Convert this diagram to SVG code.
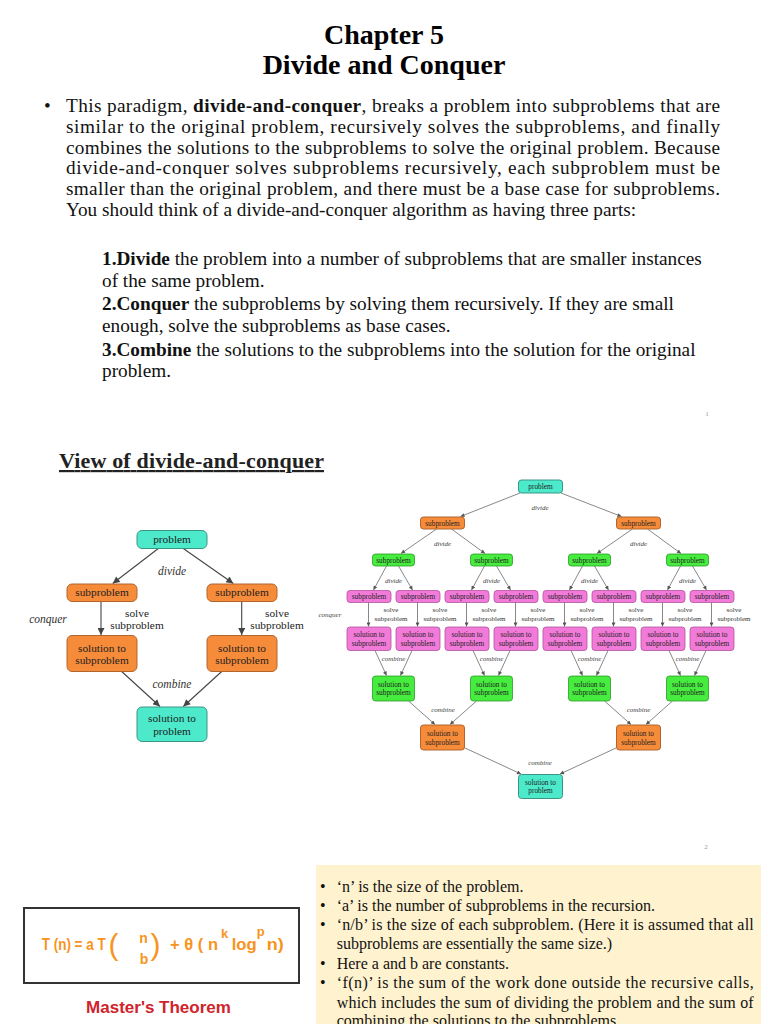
<svg xmlns="http://www.w3.org/2000/svg" width="768" height="1024" viewBox="0 0 768 1024">
<style>
.serif{font-family:"Liberation Serif","Times New Roman",serif;fill:#111}
.title{font-family:"Liberation Serif",serif;font-weight:bold;font-size:28px;text-anchor:middle;fill:#000}
.body{font-family:"Liberation Serif",serif;font-size:19.25px;fill:#111}
.small{font-family:"Liberation Serif",serif;font-size:16px;fill:#111}
.bold{font-weight:bold}
.ln{font-family:"Liberation Serif",serif;font-size:11.3px;fill:#222;text-anchor:middle}
.li{font-family:"Liberation Serif",serif;font-size:11.5px;font-style:italic;fill:#333;text-anchor:middle}
.rn{font-family:"Liberation Serif",serif;font-size:7.3px;fill:#222;text-anchor:middle}
.ri{font-family:"Liberation Serif",serif;font-size:7px;font-style:italic;fill:#444;text-anchor:middle}
.rl{font-family:"Liberation Serif",serif;font-size:7px;fill:#333;text-anchor:middle}
.cy{fill:#4CEACB;stroke:#3a9584;stroke-width:1}
.or{fill:#F68B3A;stroke:#b0662e;stroke-width:1}
.gr{fill:#46EC3E;stroke:#2c9a27;stroke-width:0.8}
.pk{fill:#F27AD9;stroke:#b1549e;stroke-width:0.8}
.el{fill:none;stroke:#444;stroke-width:1.1}
.er{fill:none;stroke:#555;stroke-width:0.7}
.fo{font-family:"Liberation Sans",Arial,sans-serif;font-weight:bold;fill:#F7941D}
.par{font-family:"Liberation Sans",Arial,sans-serif;font-weight:normal;fill:#F7941D;font-size:30px}
.pg{font-family:"Liberation Serif",serif;font-size:7px;fill:#999}
</style>
<defs>
<marker id="aL" viewBox="0 0 10 10" refX="10" refY="5" markerWidth="9" markerHeight="7" markerUnits="userSpaceOnUse" orient="auto"><path d="M0,0 L10,5 L0,10 z" fill="#444"/></marker>
<marker id="aR" viewBox="0 0 10 10" refX="10" refY="5" markerWidth="5" markerHeight="4" markerUnits="userSpaceOnUse" orient="auto"><path d="M0,0 L10,5 L0,10 z" fill="#555"/></marker>
</defs>
<rect width="768" height="1024" fill="#fff"/>

<!-- Title -->
<text class="title" x="384" y="44">Chapter 5</text>
<text class="title" x="384" y="74">Divide and Conquer</text>

<!-- Paragraph -->
<text class="body" x="44" y="112">•</text>
<text class="body" x="66" y="112" textLength="654" lengthAdjust="spacing">This paradigm, <tspan class="bold">divide-and-conquer</tspan>, breaks a problem into subproblems that are</text>
<text class="body" x="66" y="133" textLength="654" lengthAdjust="spacing">similar to the original problem, recursively solves the subproblems, and finally</text>
<text class="body" x="66" y="154" textLength="654" lengthAdjust="spacing">combines the solutions to the subproblems to solve the original problem. Because</text>
<text class="body" x="66" y="174" textLength="654" lengthAdjust="spacing">divide-and-conquer solves subproblems recursively, each subproblem must be</text>
<text class="body" x="66" y="195" textLength="654" lengthAdjust="spacing">smaller than the original problem, and there must be a base case for subproblems.</text>
<text class="body" x="66" y="216">You should think of a divide-and-conquer algorithm as having three parts:</text>

<text class="body" x="102" y="265"><tspan class="bold">1.Divide</tspan> the problem into a number of subproblems that are smaller instances</text>
<text class="body" x="102" y="287">of the same problem.</text>
<text class="body" x="102" y="310"><tspan class="bold">2.Conquer</tspan> the subproblems by solving them recursively. If they are small</text>
<text class="body" x="102" y="332">enough, solve the subproblems as base cases.</text>
<text class="body" x="102" y="356"><tspan class="bold">3.Combine</tspan> the solutions to the subproblems into the solution for the original</text>
<text class="body" x="102" y="377">problem.</text>
<text class="pg" x="707" y="416" text-anchor="middle">1</text>

<!-- Section heading -->
<text x="59" y="468" font-family="Liberation Serif,serif" font-weight="bold" font-size="22" fill="#222" text-decoration="underline" textLength="265" lengthAdjust="spacing">View of divide-and-conquer</text>

<!-- Left diagram connectors -->
<g id="left-edges">
<path class="el" d="M158.3,548.5 L112.7,583.5" marker-end="url(#aL)"/>
<path class="el" d="M183.3,548.5 L233.3,583.5" marker-end="url(#aL)"/>
<path class="el" d="M101,601.5 L101,635" marker-end="url(#aL)"/>
<path class="el" d="M241.7,601.5 L241.7,635" marker-end="url(#aL)"/>
<path class="el" d="M121.7,671.5 L160,706.5" marker-end="url(#aL)"/>
<path class="el" d="M221.7,671.5 L183.3,706.5" marker-end="url(#aL)"/>
<text class="li" x="172" y="574.5">divide</text>
<text class="li" x="48" y="623">conquer</text>
<text class="ln" x="137" y="616.5">solve</text>
<text class="ln" x="137" y="629">subproblem</text>
<text class="ln" x="277" y="616.5">solve</text>
<text class="ln" x="277" y="629">subproblem</text>
<text class="li" x="172" y="688">combine</text>
</g>
<!-- Left diagram nodes -->
<g id="L-problem"><rect class="cy" x="137" y="530.5" width="70" height="18" rx="5"/><text class="ln" x="172" y="543">problem</text></g>
<g id="L-sub1"><rect class="or" x="67" y="584" width="70" height="17.5" rx="5"/><text class="ln" x="102" y="596">subproblem</text></g>
<g id="L-sub2"><rect class="or" x="207" y="584" width="70" height="17.5" rx="5"/><text class="ln" x="242" y="596">subproblem</text></g>
<g id="L-sol1"><rect class="or" x="67" y="635.5" width="70" height="36" rx="5"/><text class="ln" x="102" y="651.5">solution to</text><text class="ln" x="102" y="664">subproblem</text></g>
<g id="L-sol2"><rect class="or" x="207" y="635.5" width="70" height="36" rx="5"/><text class="ln" x="242" y="651.5">solution to</text><text class="ln" x="242" y="664">subproblem</text></g>
<g id="L-final"><rect class="cy" x="137" y="707" width="70" height="34.5" rx="5"/><text class="ln" x="172" y="722">solution to</text><text class="ln" x="172" y="735">problem</text></g>

<!-- Right diagram connectors -->
<g id="right-edges">
<path class="er" d="M520,493 L460.5,516.5" marker-end="url(#aR)"/>
<path class="er" d="M561,493 L621.5,516.5" marker-end="url(#aR)"/>
<path class="er" d="M436.5,529 L401,553.5" marker-end="url(#aR)"/>
<path class="er" d="M451.5,529 L485,553.5" marker-end="url(#aR)"/>
<path class="er" d="M632.5,529 L597,553.5" marker-end="url(#aR)"/>
<path class="er" d="M647.5,529 L681,553.5" marker-end="url(#aR)"/>
<path class="er" d="M386.5,566 L373.5,590" marker-end="url(#aR)"/>
<path class="er" d="M398.5,566 L412.5,590" marker-end="url(#aR)"/>
<path class="er" d="M484.5,566 L471.5,590" marker-end="url(#aR)"/>
<path class="er" d="M496.5,566 L510.5,590" marker-end="url(#aR)"/>
<path class="er" d="M582.5,566 L569.5,590" marker-end="url(#aR)"/>
<path class="er" d="M594.5,566 L608.5,590" marker-end="url(#aR)"/>
<path class="er" d="M680.5,566 L667.5,590" marker-end="url(#aR)"/>
<path class="er" d="M692.5,566 L706.5,590" marker-end="url(#aR)"/>
<path class="er" d="M368.5,602.5 L368.5,626.5" marker-end="url(#aR)"/>
<path class="er" d="M417.5,602.5 L417.5,626.5" marker-end="url(#aR)"/>
<path class="er" d="M466.5,602.5 L466.5,626.5" marker-end="url(#aR)"/>
<path class="er" d="M515.5,602.5 L515.5,626.5" marker-end="url(#aR)"/>
<path class="er" d="M564.5,602.5 L564.5,626.5" marker-end="url(#aR)"/>
<path class="er" d="M613.5,602.5 L613.5,626.5" marker-end="url(#aR)"/>
<path class="er" d="M662.5,602.5 L662.5,626.5" marker-end="url(#aR)"/>
<path class="er" d="M711.5,602.5 L711.5,626.5" marker-end="url(#aR)"/>
<path class="er" d="M375,650.5 L386.5,675.5" marker-end="url(#aR)"/>
<path class="er" d="M412,650.5 L400.5,675.5" marker-end="url(#aR)"/>
<path class="er" d="M473,650.5 L484.5,675.5" marker-end="url(#aR)"/>
<path class="er" d="M510,650.5 L498.5,675.5" marker-end="url(#aR)"/>
<path class="er" d="M571,650.5 L582.5,675.5" marker-end="url(#aR)"/>
<path class="er" d="M608,650.5 L596.5,675.5" marker-end="url(#aR)"/>
<path class="er" d="M669,650.5 L680.5,675.5" marker-end="url(#aR)"/>
<path class="er" d="M706,650.5 L694.5,675.5" marker-end="url(#aR)"/>
<path class="er" d="M408.5,701 L435,724.5" marker-end="url(#aR)"/>
<path class="er" d="M476.5,701 L450,724.5" marker-end="url(#aR)"/>
<path class="er" d="M604.5,701 L631,724.5" marker-end="url(#aR)"/>
<path class="er" d="M672.5,701 L646,724.5" marker-end="url(#aR)"/>
<path class="er" d="M465,748 L521,774" marker-end="url(#aR)"/>
<path class="er" d="M616,748 L560,774" marker-end="url(#aR)"/>
<text class="ri" x="540" y="510">divide</text>
<text class="ri" x="442.5" y="546">divide</text>
<text class="ri" x="638.5" y="546">divide</text>
<text class="ri" x="393.5" y="583">divide</text>
<text class="ri" x="491.5" y="583">divide</text>
<text class="ri" x="589.5" y="583">divide</text>
<text class="ri" x="687.5" y="583">divide</text>
<text class="ri" x="330" y="617" font-size="5.5">conquer</text>
<text class="rl" x="391" y="611.5">solve</text><text class="rl" x="391" y="620.5">subproblem</text>
<text class="rl" x="440" y="611.5">solve</text><text class="rl" x="440" y="620.5">subproblem</text>
<text class="rl" x="489" y="611.5">solve</text><text class="rl" x="489" y="620.5">subproblem</text>
<text class="rl" x="538" y="611.5">solve</text><text class="rl" x="538" y="620.5">subproblem</text>
<text class="rl" x="587" y="611.5">solve</text><text class="rl" x="587" y="620.5">subproblem</text>
<text class="rl" x="636" y="611.5">solve</text><text class="rl" x="636" y="620.5">subproblem</text>
<text class="rl" x="685" y="611.5">solve</text><text class="rl" x="685" y="620.5">subproblem</text>
<text class="rl" x="734" y="611.5">solve</text><text class="rl" x="734" y="620.5">subproblem</text>
<text class="ri" x="393.5" y="660.5">combine</text>
<text class="ri" x="491.5" y="660.5">combine</text>
<text class="ri" x="589.5" y="660.5">combine</text>
<text class="ri" x="687.5" y="660.5">combine</text>
<text class="ri" x="443" y="712">combine</text>
<text class="ri" x="638.5" y="712">combine</text>
<text class="ri" x="540" y="765">combine</text>
</g>

<!-- Right diagram nodes -->
<g id="R-problem"><rect class="cy" x="518.5" y="480" width="44" height="13" rx="3"/><text class="rn" x="540.5" y="489">problem</text></g>
<g id="R-o1"><rect class="or" x="420.5" y="517" width="44" height="12" rx="3"/><text class="rn" x="442.5" y="525.5">subproblem</text></g>
<g id="R-o2"><rect class="or" x="616.5" y="517" width="44" height="12" rx="3"/><text class="rn" x="638.5" y="525.5">subproblem</text></g>
<g id="R-g1"><rect class="gr" x="372.5" y="554" width="42" height="12" rx="3"/><text class="rn" x="393.5" y="562.5">subproblem</text></g>
<g id="R-g2"><rect class="gr" x="470.5" y="554" width="42" height="12" rx="3"/><text class="rn" x="491.5" y="562.5">subproblem</text></g>
<g id="R-g3"><rect class="gr" x="568.5" y="554" width="42" height="12" rx="3"/><text class="rn" x="589.5" y="562.5">subproblem</text></g>
<g id="R-g4"><rect class="gr" x="666.5" y="554" width="42" height="12" rx="3"/><text class="rn" x="687.5" y="562.5">subproblem</text></g>
<g id="R-p1"><rect class="pk" x="347" y="590.5" width="44" height="12" rx="3"/><text class="rn" x="369" y="599">subproblem</text></g>
<g id="R-p2"><rect class="pk" x="396" y="590.5" width="44" height="12" rx="3"/><text class="rn" x="418" y="599">subproblem</text></g>
<g id="R-p3"><rect class="pk" x="445" y="590.5" width="44" height="12" rx="3"/><text class="rn" x="467" y="599">subproblem</text></g>
<g id="R-p4"><rect class="pk" x="494" y="590.5" width="44" height="12" rx="3"/><text class="rn" x="516" y="599">subproblem</text></g>
<g id="R-p5"><rect class="pk" x="543" y="590.5" width="44" height="12" rx="3"/><text class="rn" x="565" y="599">subproblem</text></g>
<g id="R-p6"><rect class="pk" x="592" y="590.5" width="44" height="12" rx="3"/><text class="rn" x="614" y="599">subproblem</text></g>
<g id="R-p7"><rect class="pk" x="641" y="590.5" width="44" height="12" rx="3"/><text class="rn" x="663" y="599">subproblem</text></g>
<g id="R-p8"><rect class="pk" x="690" y="590.5" width="44" height="12" rx="3"/><text class="rn" x="712" y="599">subproblem</text></g>
<g id="R-ps1"><rect class="pk" x="347" y="627" width="44" height="23.5" rx="3"/><text class="rn" x="369" y="637">solution to</text><text class="rn" x="369" y="645.5">subproblem</text></g>
<g id="R-ps2"><rect class="pk" x="396" y="627" width="44" height="23.5" rx="3"/><text class="rn" x="418" y="637">solution to</text><text class="rn" x="418" y="645.5">subproblem</text></g>
<g id="R-ps3"><rect class="pk" x="445" y="627" width="44" height="23.5" rx="3"/><text class="rn" x="467" y="637">solution to</text><text class="rn" x="467" y="645.5">subproblem</text></g>
<g id="R-ps4"><rect class="pk" x="494" y="627" width="44" height="23.5" rx="3"/><text class="rn" x="516" y="637">solution to</text><text class="rn" x="516" y="645.5">subproblem</text></g>
<g id="R-ps5"><rect class="pk" x="543" y="627" width="44" height="23.5" rx="3"/><text class="rn" x="565" y="637">solution to</text><text class="rn" x="565" y="645.5">subproblem</text></g>
<g id="R-ps6"><rect class="pk" x="592" y="627" width="44" height="23.5" rx="3"/><text class="rn" x="614" y="637">solution to</text><text class="rn" x="614" y="645.5">subproblem</text></g>
<g id="R-ps7"><rect class="pk" x="641" y="627" width="44" height="23.5" rx="3"/><text class="rn" x="663" y="637">solution to</text><text class="rn" x="663" y="645.5">subproblem</text></g>
<g id="R-ps8"><rect class="pk" x="690" y="627" width="44" height="23.5" rx="3"/><text class="rn" x="712" y="637">solution to</text><text class="rn" x="712" y="645.5">subproblem</text></g>
<g id="R-gs1"><rect class="gr" x="372.5" y="676" width="42" height="25" rx="3"/><text class="rn" x="393.5" y="686.5">solution to</text><text class="rn" x="393.5" y="695">subproblem</text></g>
<g id="R-gs2"><rect class="gr" x="470.5" y="676" width="42" height="25" rx="3"/><text class="rn" x="491.5" y="686.5">solution to</text><text class="rn" x="491.5" y="695">subproblem</text></g>
<g id="R-gs3"><rect class="gr" x="568.5" y="676" width="42" height="25" rx="3"/><text class="rn" x="589.5" y="686.5">solution to</text><text class="rn" x="589.5" y="695">subproblem</text></g>
<g id="R-gs4"><rect class="gr" x="666.5" y="676" width="42" height="25" rx="3"/><text class="rn" x="687.5" y="686.5">solution to</text><text class="rn" x="687.5" y="695">subproblem</text></g>
<g id="R-os1"><rect class="or" x="420.5" y="725" width="44" height="25" rx="3"/><text class="rn" x="442.5" y="735.8">solution to</text><text class="rn" x="442.5" y="744.5">subproblem</text></g>
<g id="R-os2"><rect class="or" x="616.5" y="725" width="44" height="25" rx="3"/><text class="rn" x="638.5" y="735.8">solution to</text><text class="rn" x="638.5" y="744.5">subproblem</text></g>
<g id="R-final"><rect class="cy" x="518.5" y="774.5" width="44" height="24" rx="3"/><text class="rn" x="540.5" y="784.5">solution to</text><text class="rn" x="540.5" y="793">problem</text></g>

<text class="pg" x="706" y="849" text-anchor="middle">2</text>

<!-- Master theorem box -->
<g id="formula">
<rect x="24" y="908" width="275" height="75" fill="#fff" stroke="#333" stroke-width="2"/>
<text class="fo" x="41.7" y="949.5" font-size="17" textLength="64" lengthAdjust="spacingAndGlyphs">T (n) = a T</text>
<text class="par" x="108.5" y="955">(</text>
<text class="fo" x="143.5" y="943.3" font-size="14" text-anchor="middle">n</text>
<text class="fo" x="144" y="964" font-size="14" text-anchor="middle">b</text>
<text class="par" x="150.5" y="955">)</text>
<text class="fo" x="170" y="949.5" font-size="17" textLength="48" lengthAdjust="spacingAndGlyphs">+ θ ( n</text>
<text class="fo" x="221" y="938" font-size="13">k</text>
<text class="fo" x="231.7" y="949.5" font-size="17" textLength="25" lengthAdjust="spacingAndGlyphs">log</text>
<text class="fo" x="256.7" y="936" font-size="13">p</text>
<text class="fo" x="266.7" y="949.5" font-size="17" textLength="17" lengthAdjust="spacingAndGlyphs">n)</text>
</g>
<text x="158.5" y="1013" font-family="Liberation Sans,Arial,sans-serif" font-weight="bold" font-size="17" fill="#D0232B" text-anchor="middle">Master's Theorem</text>

<!-- Notes panel -->
<rect x="316" y="865" width="445" height="160" fill="#FFF2CF"/>
<g class="small">
<text x="320" y="892">•</text><text x="336.7" y="892">‘n’ is the size of the problem.</text>
<text x="320" y="911">•</text><text x="336.7" y="911">‘a’ is the number of subproblems in the recursion.</text>
<text x="320" y="930">•</text><text x="336.7" y="930" textLength="417" lengthAdjust="spacing">‘n/b’ is the size of each subproblem. (Here it is assumed that all</text>
<text x="336.7" y="949">subproblems are essentially the same size.)</text>
<text x="320" y="969">•</text><text x="336.7" y="969">Here a and b are constants.</text>
<text x="320" y="988">•</text><text x="336.7" y="988" textLength="417" lengthAdjust="spacing">‘f(n)’ is the sum of the work done outside the recursive calls,</text>
<text x="336.7" y="1008" textLength="417" lengthAdjust="spacing">which includes the sum of dividing the problem and the sum of</text>
<text x="336.7" y="1026">combining the solutions to the subproblems.</text>
</g>
</svg>
